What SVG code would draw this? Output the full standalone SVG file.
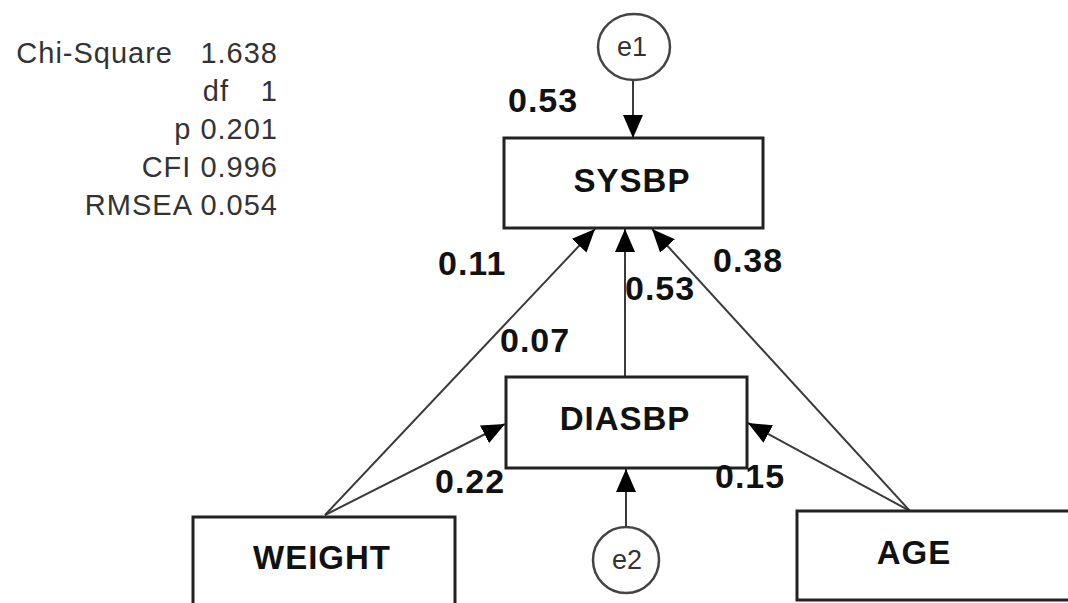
<svg xmlns="http://www.w3.org/2000/svg" width="1068" height="603" viewBox="0 0 1068 603">
<defs>
<marker id="arr" markerUnits="userSpaceOnUse" markerWidth="26" markerHeight="22" refX="23" refY="10" orient="auto">
<path d="M0,0 L23,10 L0,20 z" fill="#000"/>
</marker>
<style>
.box{fill:#fff;stroke:#222;stroke-width:3}
.circ{fill:#fff;stroke:#444;stroke-width:2.5}
.nt{font-family:"Liberation Sans",Arial,sans-serif;font-weight:bold;font-size:33px;fill:#111;text-anchor:middle;letter-spacing:1px}
.et{font-family:"Liberation Sans",Arial,sans-serif;font-size:27px;fill:#333;text-anchor:middle}
.lbl{font-family:"Liberation Sans",Arial,sans-serif;font-weight:bold;font-size:34px;fill:#111;letter-spacing:1px}
.st{font-family:"Liberation Sans",Arial,sans-serif;font-size:29px;fill:#333;text-anchor:end;letter-spacing:1px}
.c{stroke:#3a3a3a;stroke-width:2;fill:none;marker-end:url(#arr)}
</style>
</defs>
<rect width="1068" height="603" fill="#fff"/>
<g id="stats">
<text class="st" x="173" y="63">Chi-Square</text>
<text class="st" x="278" y="63">1.638</text>
<text class="st" x="229" y="101">df</text>
<text class="st" x="278" y="101">1</text>
<text class="st" x="278" y="139">p 0.201</text>
<text class="st" x="278" y="177">CFI 0.996</text>
<text class="st" x="278" y="215">RMSEA 0.054</text>
</g>
<g id="connectors">
<line class="c" x1="633" y1="80" x2="633" y2="138"/>
<line class="c" x1="625" y1="377" x2="625" y2="229"/>
<line class="c" x1="626" y1="527" x2="626" y2="469"/>
<line class="c" x1="325" y1="515" x2="595" y2="229"/>
<line class="c" x1="325" y1="515" x2="505" y2="424"/>
<line class="c" x1="910" y1="511" x2="652" y2="229"/>
<line class="c" x1="910" y1="511" x2="748" y2="423"/>
</g>
<g id="e1">
<ellipse class="circ" cx="634" cy="47" rx="36" ry="33"/>
<text class="et" x="632" y="56">e1</text>
</g>
<g id="SYSBP">
<rect class="box" x="504" y="138" width="259" height="90"/>
<text class="nt" x="632" y="192">SYSBP</text>
</g>
<g id="DIASBP">
<rect class="box" x="506" y="377" width="241" height="91"/>
<text class="nt" x="625" y="430">DIASBP</text>
</g>
<g id="e2">
<ellipse class="circ" cx="626" cy="560" rx="33" ry="33"/>
<text class="et" x="627" y="569">e2</text>
</g>
<g id="WEIGHT">
<rect class="box" x="193" y="517" width="262" height="100"/>
<text class="nt" x="322" y="569">WEIGHT</text>
</g>
<g id="AGE">
<rect class="box" x="797" y="511" width="290" height="89"/>
<text class="nt" x="914" y="564">AGE</text>
</g>
<g id="labels">
<text class="lbl" x="508" y="112">0.53</text>
<text class="lbl" x="438" y="275">0.11</text>
<text class="lbl" x="625" y="300">0.53</text>
<text class="lbl" x="713" y="272">0.38</text>
<text class="lbl" x="500" y="352">0.07</text>
<text class="lbl" x="435" y="493">0.22</text>
<text class="lbl" x="715" y="488">0.15</text>
</g>
</svg>
